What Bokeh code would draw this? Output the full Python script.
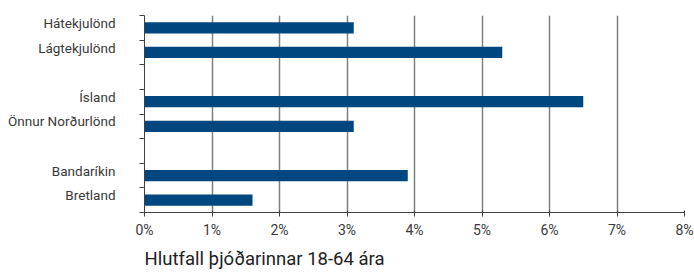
from bokeh.plotting import figure
from bokeh.models import Range1d, FixedTicker, ColumnDataSource, Title
from bokeh.embed import file_html
from bokeh.resources import INLINE

# data
categories = ["Hátekjulönd", "Lágtekjulönd", "", "Ísland", "Önnur Norðurlönd", "", "Bandaríkin", "Bretland"]
values = [3.1, 5.3, None, 6.5, 3.1, None, 3.9, 1.6]
x_ticks = [0, 1, 2, 3, 4, 5, 6, 7, 8]
x_tick_labels = ["0%", "1%", "2%", "3%", "4%", "5%", "6%", "7%", "8%"]
x_title = "Hlutfall þjóðarinnar 18-64 ára"

n = len(categories)
ys = [i + 0.5 for i, v in enumerate(values) if v is not None]
xs = [v for v in values if v is not None]
src = ColumnDataSource(dict(y=ys, right=xs))

FONT = "Roboto"

p = figure(width=694, height=274, output_backend="svg", toolbar_location=None,
           x_range=Range1d(0, 8), y_range=Range1d(n, 0),
           min_border_left=144, min_border_right=10, min_border_top=15, min_border_bottom=59)
p.outline_line_color = None
p.background_fill_color = "white"

p.hbar(y="y", right="right", left=0, height=0.46, source=src,
       fill_color="#00467f", line_color=None)

# x axis
p.xaxis.ticker = FixedTicker(ticks=x_ticks)
p.xaxis.major_label_overrides = {t: l for t, l in zip(x_ticks, x_tick_labels)}
p.xaxis.axis_line_color = "#404040"
p.xaxis.major_tick_line_color = "#404040"
p.xaxis.major_tick_in = 2
p.xaxis.major_tick_out = 4
p.xaxis.minor_tick_line_color = None
p.xaxis.major_label_text_font = FONT
p.xaxis.major_label_text_font_size = "14px"
p.xaxis.major_label_text_color = "#3a3a3a"
p.xaxis.major_label_standoff = 5

p.xgrid.ticker = FixedTicker(ticks=x_ticks)
p.xgrid.grid_line_color = "#808080"
p.xgrid.grid_line_width = 1.5
p.ygrid.grid_line_color = None

# y axis: labels at category centres (nudged up), tick marks at slot boundaries
label_pos = [i + 0.5 - 0.2 for i, c in enumerate(categories) if c]
p.yaxis.ticker = FixedTicker(ticks=label_pos, minor_ticks=list(range(n + 1)))
p.yaxis.major_label_overrides = {pos: c for pos, c in zip(label_pos, [c for c in categories if c])}
p.yaxis.major_tick_out = 0
p.yaxis.major_tick_in = 0
p.yaxis.minor_tick_out = 5
p.yaxis.minor_tick_in = 0
p.yaxis.minor_tick_line_color = "#404040"
p.yaxis.axis_line_color = "#404040"
p.yaxis.major_label_standoff = 24
p.yaxis.major_label_text_font = FONT
p.yaxis.major_label_text_font_size = "13.5px"
p.yaxis.major_label_text_color = "#3a3a3a"

# x-axis title, left-aligned under the plot area
t = Title(text=x_title, align="left", text_font=FONT, text_font_size="18.5px",
          text_font_style="normal", text_color="#222222", standoff=10)
p.add_layout(t, "below")

open("out.html", "w").write(file_html(p, INLINE))
